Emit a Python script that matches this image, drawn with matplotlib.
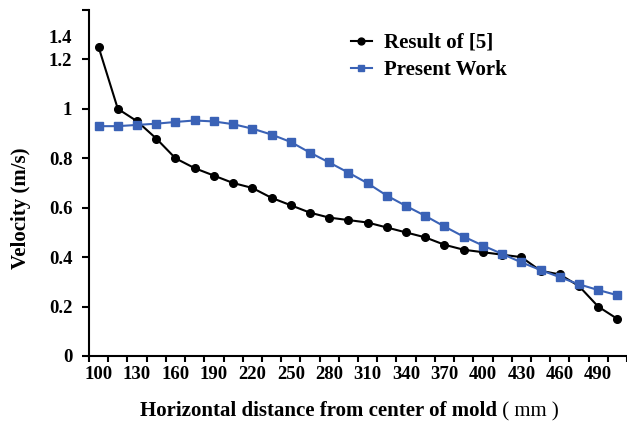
import matplotlib
matplotlib.use("Agg")
import matplotlib.pyplot as plt
import numpy as np

plt.rcParams['font.family'] = ['Liberation Serif', 'DejaVu Serif']

# distance from mold centre (mm), one value every 15 mm
distance_mm = list(range(100, 506, 15))
# velocity (m/s)
result_5 = [1.25, 1.00, 0.95, 0.88, 0.80, 0.76, 0.73, 0.70, 0.68, 0.64,
            0.61, 0.58, 0.56, 0.55, 0.54, 0.52, 0.50, 0.48, 0.45, 0.43,
            0.42, 0.41, 0.40, 0.345, 0.33, 0.283, 0.20, 0.15]
present_work = [0.93, 0.93, 0.935, 0.94, 0.947, 0.953, 0.949, 0.938, 0.92, 0.896,
                0.866, 0.823, 0.783, 0.742, 0.699, 0.649, 0.607, 0.567, 0.524, 0.483,
                0.447, 0.413, 0.379, 0.348, 0.319, 0.29, 0.267, 0.246]
y_ticks = [0, 0.2, 0.4, 0.6, 0.8, 1, 1.2, 1.4]
y_labels = ["0", "0.2", "0.4", "0.6", "0.8", "1", "1.2", ""]

W, H = 627, 421
fig = plt.figure(figsize=(W / 100, H / 100), dpi=100)
ax = fig.add_axes([89 / W, (H - 356) / H, (W - 89) / W, (356 - 10) / H])

idx = np.arange(len(distance_mm))
blue = '#3a62b6'
ax.plot(idx, result_5, color='black', lw=1.5, marker='o', ms=5.5, label='Result of [5]')
ax.plot(idx, present_work, color=blue, lw=1.5, marker='s', ms=5.5, label='Present Work')

# category style axis: ticks on boundaries, labels at every other point
ax.set_xlim(-0.5, len(distance_mm) - 0.5)
ax.set_xticks(np.arange(-0.5, len(distance_mm), 1))
ax.set_xticklabels([])
ax.set_xticks(idx[::2], minor=True)
ax.set_xticklabels([str(v) for v in distance_mm[::2]], minor=True,
                   fontsize=13.5, fontweight='bold')
ax.tick_params(axis='x', which='major', direction='out', length=4, width=1.5)
ax.tick_params(axis='x', which='minor', length=0, pad=7)

ax.set_ylim(0, 1.4)
ax.set_yticks(y_ticks)
ax.set_yticklabels(y_labels, fontsize=13.5, fontweight='bold')
ax.tick_params(axis='y', direction='out', length=5, width=1.5, pad=7)
# the "1.4" label sits below its tick in the original
ax.text(-0.032, 1.285, "1.4", transform=ax.get_yaxis_transform(),
        ha='right', va='center', fontsize=13.5, fontweight='bold')

for s in ['top', 'right']:
    ax.spines[s].set_visible(False)
for s in ['left', 'bottom']:
    ax.spines[s].set_linewidth(1.5)

fig.text(21 / W, 1 - 208 / H, "Velocity (m/s)", rotation=90, ha='center', va='center',
         fontsize=15, fontweight='bold')
t1 = fig.text(140 / W, 1 - 416 / H, "Horizontal distance from center of mold",
              fontsize=15, fontweight='bold', va='baseline')
ax.annotate(" ( mm )", xy=(1, 0), xycoords=t1, va='bottom', ha='left', fontsize=15)

fig.legend(loc='upper left', bbox_to_anchor=(351 / W, 1 - 33 / H), frameon=False,
           prop={'weight': 'bold', 'size': 15}, handlelength=1.0, handletextpad=0.6,
           labelspacing=0.35, borderpad=0, borderaxespad=0, markerscale=0.9)

fig.savefig('out.png', dpi=100)
